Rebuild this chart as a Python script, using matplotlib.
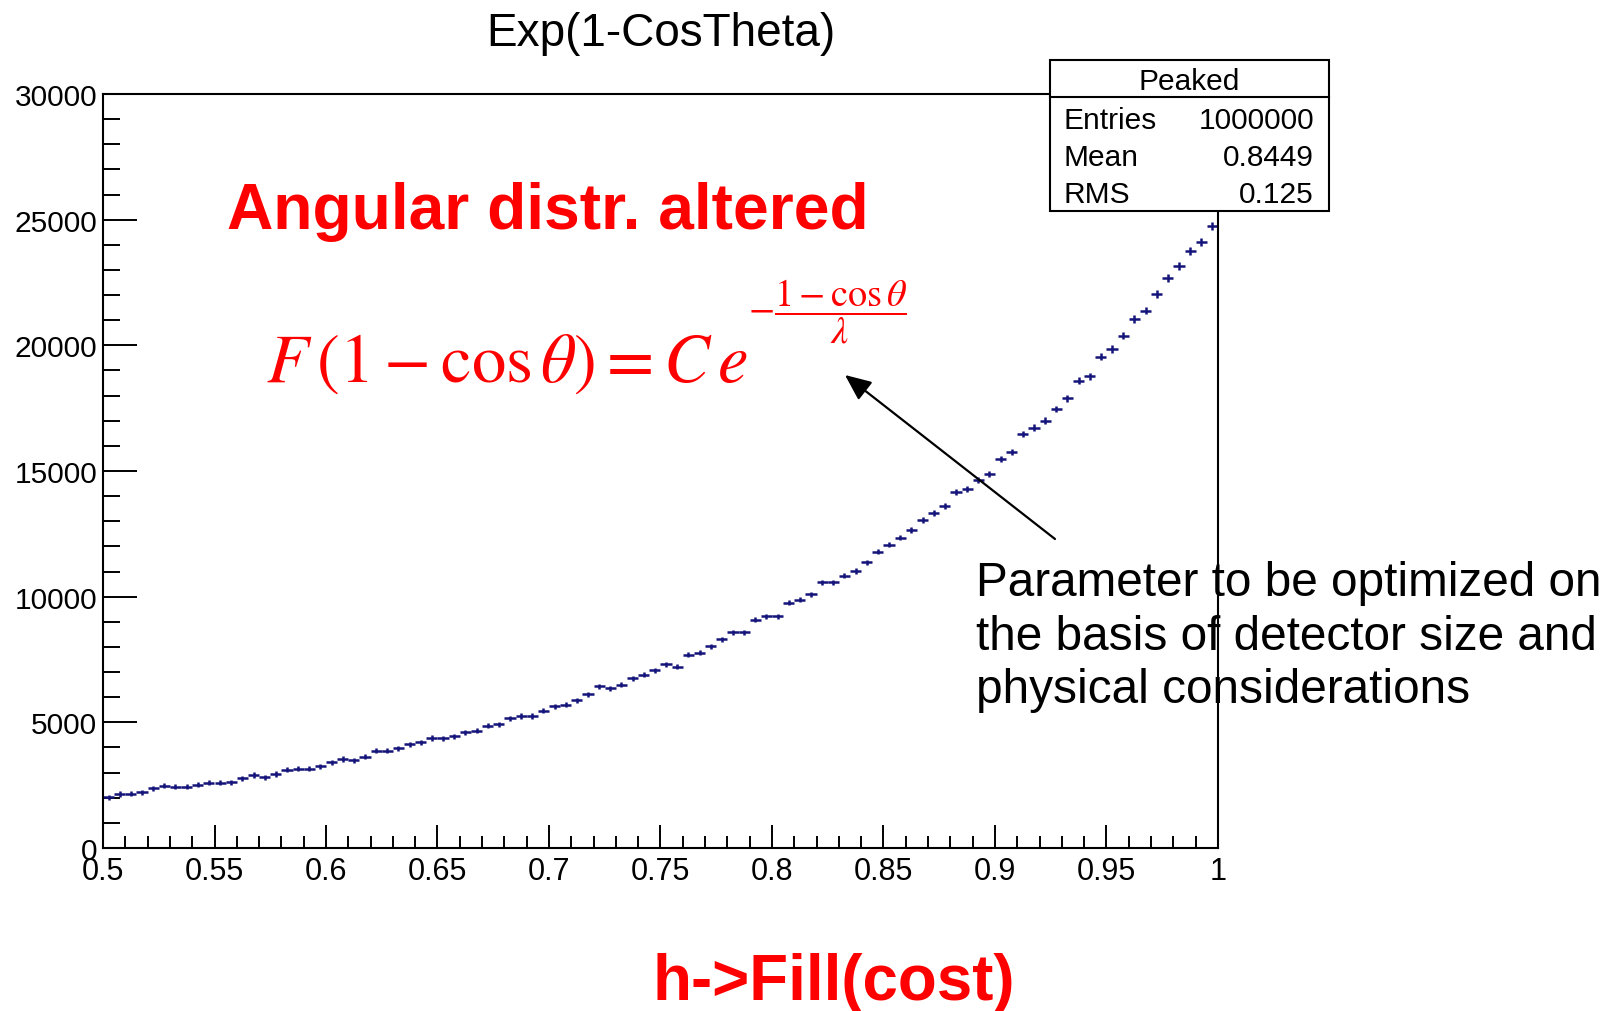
import numpy as np
import matplotlib
matplotlib.use("Agg")
import matplotlib.pyplot as plt
from matplotlib import font_manager
from matplotlib.patches import Rectangle, FancyArrowPatch
from matplotlib.lines import Line2D

# histogram content (100 bins, 0.5 .. 1)
bin_low, bin_high = 0.5, 1.0
counts = [
    2017, 2149, 2150, 2215, 2374, 2480, 2440, 2440, 2520, 2600,
    2590, 2610, 2773, 2904, 2812, 2944, 3104, 3157, 3144, 3250,
    3409, 3541, 3488, 3634, 3873, 3873, 3966, 4130, 4215, 4377,
    4370, 4443, 4602, 4669, 4868, 4920, 5159, 5252, 5252, 5464,
    5637, 5703, 5876, 6114, 6432, 6353, 6499, 6751, 6897, 7069,
    7308, 7215, 7692, 7772, 8024, 8300, 8581, 8581, 9085, 9218,
    9218, 9749, 9881, 10093, 10571, 10571, 10836, 11022, 11367, 11791,
    12070, 12348, 12653, 13051, 13330, 13608, 14165, 14285, 14650, 14881,
    15490, 15743, 16473, 16725, 17004, 17468, 17892, 18595, 18768, 19550,
    19855, 20386, 21049, 21381, 22044, 22680, 23145, 23767, 24100, 24737,
]

title = "Exp(1-CosTheta)"
x_ticks = [0.5, 0.55, 0.6, 0.65, 0.7, 0.75, 0.8, 0.85, 0.9, 0.95, 1.0]
x_tick_labels = ["0.5", "0.55", "0.6", "0.65", "0.7", "0.75", "0.8", "0.85", "0.9", "0.95", "1"]
y_ticks = [0, 5000, 10000, 15000, 20000, 25000, 30000]
y_tick_labels = ["0", "5000", "10000", "15000", "20000", "25000", "30000"]

stats_name = "Peaked"
stats_rows = [("Entries", "1000000"), ("Mean", "0.8449"), ("RMS", "0.125")]

headline = "Angular distr. altered"
formula_main = r"$F\,(1-\cos\theta)=C\,e$"
formula_exp = r"$-\dfrac{1-\cos\theta}{\lambda}$"
note_lines = ["Parameter to be optimized on",
              "the basis of detector size and",
              "physical considerations"]
footer = "h->Fill(cost)"

RED = "#ff0000"
W, H = 1619, 1012

names = {f.name for f in font_manager.fontManager.ttflist}
sans = "Liberation Sans" if "Liberation Sans" in names else "DejaVu Sans"
narrow = "Liberation Sans Narrow" if "Liberation Sans Narrow" in names else sans
plt.rcParams["font.family"] = [sans, "DejaVu Sans"]


def fx(x):
    return x / W


def fy(y):
    # pixel rows are counted from the top
    return 1 - y / H


fig = plt.figure(figsize=(W / 100, H / 100), dpi=100)
ax = fig.add_axes([fx(103), fy(849), (1218 - 103) / W, (849 - 95) / H])

n = len(counts)
width = (bin_high - bin_low) / n
centers = bin_low + (np.arange(n) + 0.5) * width
vals = np.array(counts, dtype=float)
# ROOT draws the vertical bar at least marker-sized
yerr = np.maximum(np.sqrt(vals), 100)
ax.errorbar(centers, vals, xerr=width / 2, yerr=yerr, fmt="none",
            ecolor="#14147a", elinewidth=1.8, capsize=0)

ax.set_xlim(bin_low, bin_high)
ax.set_ylim(0, 30000)
ax.set_xticks(x_ticks)
ax.set_xticklabels(x_tick_labels, fontfamily=narrow,
                   fontsize=25 if narrow != sans else 22)
ax.set_xticks(np.arange(0.5, 1.0001, 0.01), minor=True)
ax.set_yticks(y_ticks)
ax.set_yticklabels(y_tick_labels, fontsize=21.5)
ax.set_yticks(np.arange(0, 30001, 1000), minor=True)

for s in ax.spines.values():
    s.set_linewidth(1.5)
ax.tick_params(which="both", direction="in", top=False, right=False, width=1.4, color="black")
ax.tick_params(axis="x", which="major", length=16.5, pad=6)
ax.tick_params(axis="x", which="minor", length=8.5)
ax.tick_params(axis="y", which="major", length=24.5, pad=4.3)
ax.tick_params(axis="y", which="minor", length=12.2)

fig.text(fx(661), fy(34), title, ha="center", va="center", fontsize=33)

# stats box
box = Rectangle((fx(1050), fy(212)), (1329 - 1050) / W, (212 - 61) / H,
                transform=fig.transFigure, facecolor="white", edgecolor="black",
                linewidth=1.5, zorder=10)
fig.add_artist(box)
fig.add_artist(Line2D([fx(1050), fx(1329)], [fy(98), fy(98)], color="black",
                      linewidth=1.5, transform=fig.transFigure, zorder=11))
fig.text(fx(1189), fy(82), stats_name, ha="center", va="center", fontsize=21.5, zorder=12)
for i, (lab, val) in enumerate(stats_rows):
    yy = fy(121 + i * 37)
    fig.text(fx(1063), yy, lab, ha="left", va="center", fontsize=21.5, zorder=12)
    fig.text(fx(1314), yy, val, ha="right", va="center", fontsize=21.5, zorder=12)

# annotations
fig.text(fx(227), fy(229), headline, ha="left", va="baseline", fontsize=46.2,
         fontweight="bold", color=RED)
fig.text(fx(266), fy(382), formula_main, ha="left", va="baseline", fontsize=49.5,
         color=RED, math_fontfamily="stix")
fig.text(fx(748), fy(312), formula_exp, ha="left", va="center", fontsize=27.5,
         color=RED, math_fontfamily="stix")

for i, line in enumerate(note_lines):
    fig.text(fx(976), fy(596 + i * 53.5), line, ha="left", va="baseline", fontsize=34.4)

arrow = FancyArrowPatch((fx(1055), fy(540)), (fx(845), fy(376)),
                        transform=fig.transFigure,
                        arrowstyle="-|>,head_length=0.8,head_width=0.35",
                        mutation_scale=20, color="black", linewidth=1.6,
                        shrinkA=0, shrinkB=0, zorder=12)
fig.add_artist(arrow)

fig.text(fx(652), fy(1000), footer, ha="left", va="baseline", fontsize=45.8,
         fontweight="bold", color=RED)

fig.savefig("out.png", dpi=100, facecolor="white")
